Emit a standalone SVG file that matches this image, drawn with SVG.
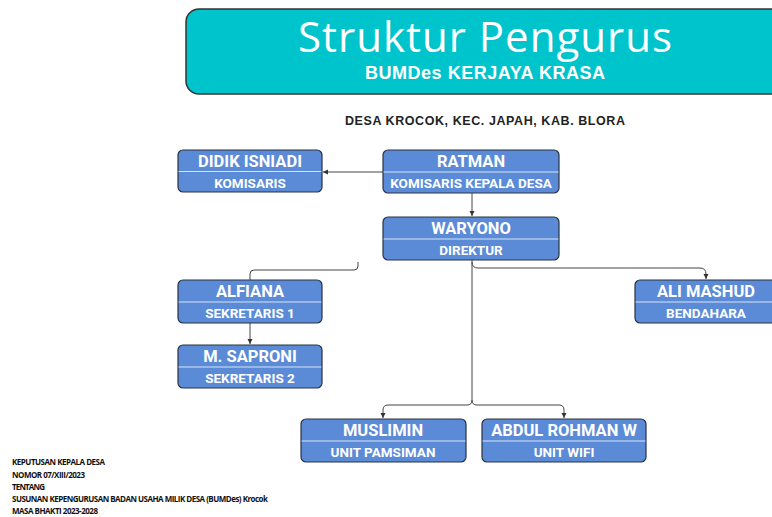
<svg xmlns="http://www.w3.org/2000/svg" width="772" height="517" viewBox="0 0 772 517">
<defs>
<marker id="ah" viewBox="0 0 6 6" refX="5" refY="3" markerWidth="6" markerHeight="6" orient="auto" markerUnits="userSpaceOnUse">
<path d="M0,0.5 L5,3 L0,5.5 z" fill="#333"/>
</marker>
<style>
.node rect.box{fill:#5B8BD6;stroke:#2B3340;stroke-width:1.2}
.node line{stroke:#D8E4F6;stroke-width:1}
.nm{font-family:Roboto,"Liberation Sans",sans-serif;font-weight:bold;font-size:16.5px;fill:#fff;text-anchor:middle}
.rl{font-family:Roboto,"Liberation Sans",sans-serif;font-weight:bold;font-size:13.5px;fill:#fff;text-anchor:middle}
.conn path{fill:none;stroke:#444;stroke-width:1}
.note{font-family:"Open Sans","Liberation Sans",sans-serif;font-weight:bold;font-size:8px;fill:#111}
</style>
</defs>
<rect width="772" height="517" fill="#fff"/>
<g id="header">
<rect x="186" y="9" width="600" height="85" rx="13" fill="#00C4CC" stroke="#333" stroke-width="1.5"/>
<text x="485" y="52" font-family="'Open Sans',sans-serif" font-size="42" fill="#fff" text-anchor="middle" textLength="374">Struktur Pengurus</text>
<text x="485" y="79" font-family="'Liberation Sans',sans-serif" font-weight="bold" font-size="18" fill="#fff" text-anchor="middle" textLength="240">BUMDes KERJAYA KRASA</text>
<text x="485" y="125" font-family="'Liberation Sans',Roboto,sans-serif" font-weight="bold" font-size="12.5" fill="#222" text-anchor="middle" textLength="280">DESA KROCOK, KEC. JAPAH, KAB. BLORA</text>
</g>
<g class="conn" id="connectors">
<path d="M383,172 L323,172" marker-end="url(#ah)"/>
<path d="M472,193 L472,216" marker-end="url(#ah)"/>
<path d="M472,260 L472,400 Q472,405 467,405 L388,405 Q383,405 383,410 L383,418" marker-end="url(#ah)"/>
<path d="M472,400 Q472,405 477,405 L559,405 Q564,405 564,410 L564,418" marker-end="url(#ah)"/>
<path d="M472,262 Q472,268 478,268 L700,268 Q706,268 706,274 L706,279" marker-end="url(#ah)"/>
<path d="M358,262 L358,266 Q358,270 354,270 L254,270 Q250,270 250,274 L250,280" stroke="#777"/>
<path d="M250,323 L250,344" marker-end="url(#ah)"/>
</g>
<g class="node" id="n-didik">
<rect class="box" x="178" y="150" width="144" height="42" rx="5"/>
<line x1="178.6" y1="171.5" x2="321.4" y2="171.5"/>
<text class="nm" x="250" y="167">DIDIK ISNIADI</text>
<text class="rl" x="250" y="188">KOMISARIS</text>
</g>
<g class="node" id="n-ratman">
<rect class="box" x="383" y="150" width="176" height="43" rx="5"/>
<line x1="383.6" y1="172" x2="558.4" y2="172"/>
<text class="nm" x="471" y="167">RATMAN</text>
<text class="rl" x="471" y="188">KOMISARIS KEPALA DESA</text>
</g>
<g class="node" id="n-waryono">
<rect class="box" x="383" y="217" width="176" height="43" rx="5"/>
<line x1="383.6" y1="239" x2="558.4" y2="239"/>
<text class="nm" x="471" y="234">WARYONO</text>
<text class="rl" x="471" y="255">DIREKTUR</text>
</g>
<g class="node" id="n-alfiana">
<rect class="box" x="178" y="280" width="144" height="43" rx="5"/>
<line x1="178.6" y1="302" x2="321.4" y2="302"/>
<text class="nm" x="250" y="297">ALFIANA</text>
<text class="rl" x="250" y="318">SEKRETARIS 1</text>
</g>
<g class="node" id="n-sapronI">
<rect class="box" x="178" y="345" width="144" height="43" rx="5"/>
<line x1="178.6" y1="367" x2="321.4" y2="367"/>
<text class="nm" x="250" y="362">M. SAPRONI</text>
<text class="rl" x="250" y="383">SEKRETARIS 2</text>
</g>
<g class="node" id="n-ali">
<rect class="box" x="635" y="280" width="150" height="43" rx="5"/>
<line x1="635.6" y1="302" x2="772" y2="302"/>
<text class="nm" x="706" y="297">ALI MASHUD</text>
<text class="rl" x="706" y="318">BENDAHARA</text>
</g>
<g class="node" id="n-muslimin">
<rect class="box" x="301" y="419" width="165" height="43" rx="5"/>
<line x1="301.6" y1="441" x2="465.4" y2="441"/>
<text class="nm" x="383" y="436">MUSLIMIN</text>
<text class="rl" x="383" y="457">UNIT PAMSIMAN</text>
</g>
<g class="node" id="n-abdul">
<rect class="box" x="482" y="419" width="164" height="43" rx="5"/>
<line x1="482.6" y1="441" x2="645.4" y2="441"/>
<text class="nm" x="564" y="436">ABDUL ROHMAN W</text>
<text class="rl" x="564" y="457">UNIT WIFI</text>
</g>
<g id="note">
<text class="note" x="12" y="465" textLength="93">KEPUTUSAN KEPALA DESA</text>
<text class="note" x="12" y="478" textLength="73">NOMOR 07/XIII/2023</text>
<text class="note" x="12" y="490" textLength="33">TENTANG</text>
<text class="note" x="12" y="502" textLength="256">SUSUNAN KEPENGURUSAN BADAN USAHA MILIK DESA (BUMDes) Krocok</text>
<text class="note" x="12" y="514" textLength="86">MASA BHAKTI 2023-2028</text>
</g>
</svg>
